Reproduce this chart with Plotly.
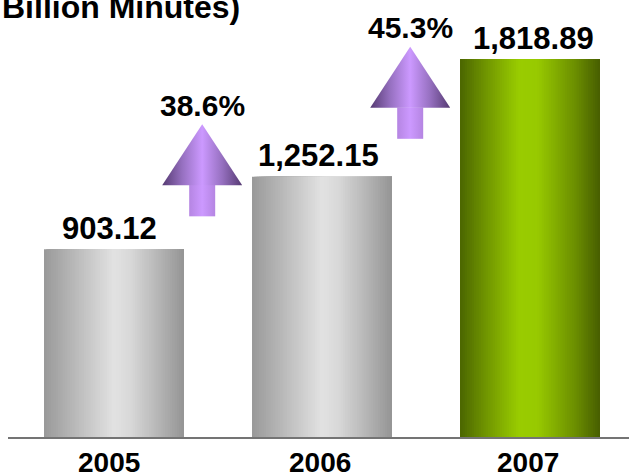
import numpy as np
import plotly.graph_objects as go

# ---- data -------------------------------------------------------------
years = ["2005", "2006", "2007"]
minutes = [903.12, 1252.15, 1818.89]
value_labels = ["903.12", "1,252.15", "1,818.89"]
growth = [38.6, 45.3]
growth_labels = ["38.6%", "45.3%"]
unit_label = "Billion Minutes)"

# ---- styling ------------------------------------------------------------
FONT = "Liberation Sans, Arial, sans-serif"
BAR_W = 0.673
N_SLICES = 60
Y_MAX = 2103
PX_Y = Y_MAX / 437.0          # data units per vertical pixel
PX_X = 1 / 208.0              # data units per horizontal pixel
LABEL_XSHIFT = [-5, -3, 4]    # small horizontal nudges of the value labels
YEAR_XSHIFT = [-5, -2, -2]
ARROW_GAP_PX = [33, 38]       # gap between a bar top and the arrow above it

GRAY = [(0.0, "#999999"), (0.5, "#e2e2e2"), (0.62, "#d8d8d8"), (1.0, "#959595")]
GREEN = [(0.0, "#4b6600"), (0.18, "#6f9400"), (0.42, "#99cc00"),
         (0.55, "#98ca00"), (0.82, "#6c8f00"), (1.0, "#475e00")]
bar_stops = [GRAY, GRAY, GREEN]


def hex_rgb(h):
    h = h.lstrip("#")
    return np.array([int(h[i:i + 2], 16) for i in (0, 2, 4)], dtype=float)


def shade(stops, t):
    for (t0, c0), (t1, c1) in zip(stops[:-1], stops[1:]):
        if t0 <= t <= t1:
            f = (t - t0) / (t1 - t0) if t1 > t0 else 0
            c = hex_rgb(c0) * (1 - f) + hex_rgb(c1) * f
            return "rgb(%d,%d,%d)" % tuple(np.round(c))
    return stops[-1][1]


pos = np.arange(len(years))
fig = go.Figure()

# Cylinder-like bars: each slice runs from its start to the right edge,
# later slices cover earlier ones so the shading has no seams.
for k in range(N_SLICES):
    t = (k + 0.5) / N_SLICES
    start = -BAR_W / 2 + k * BAR_W / N_SLICES
    fig.add_bar(
        x=pos, y=minutes,
        offset=start, width=BAR_W / 2 - start,
        marker=dict(color=[shade(s, t) for s in bar_stops], line_width=0),
        hoverinfo="skip", showlegend=False,
    )

annotations = []
for i, (v, lab) in enumerate(zip(minutes, value_labels)):
    annotations.append(dict(
        x=pos[i], y=v, xref="x", yref="y", text="<b>%s</b>" % lab,
        showarrow=False, yanchor="middle", yshift=21, xshift=LABEL_XSHIFT[i],
        font=dict(family=FONT, size=31, color="#000000")))

# Year labels under the baseline
for i, yr in enumerate(years):
    annotations.append(dict(
        x=pos[i], y=0, xref="x", yref="y", text="<b>%s</b>" % yr,
        showarrow=False, yanchor="middle", yshift=-25, xshift=YEAR_XSHIFT[i],
        font=dict(family=FONT, size=28, color="#000000")))

# Growth arrows between consecutive years
HEAD_HW = 40 * PX_X
SHAFT_HW = 13 * PX_X
for i, (g, glab) in enumerate(zip(growth, growth_labels)):
    cx = pos[i] + 0.424
    bottom = minutes[i] + ARROW_GAP_PX[i] * PX_Y
    head_base = bottom + 31 * PX_Y
    tip = bottom + 92 * PX_Y
    fig.add_scatter(
        x=[cx - SHAFT_HW, cx + SHAFT_HW, cx + SHAFT_HW, cx - SHAFT_HW, cx - SHAFT_HW],
        y=[bottom, bottom, head_base + 2, head_base + 2, bottom],
        mode="lines", fill="toself", line=dict(width=0),
        fillgradient=dict(type="horizontal",
                          colorscale=[[0, "#b585e2"], [0.5, "#cc99ff"], [1, "#b585e2"]]),
        hoverinfo="skip", showlegend=False)
    fig.add_scatter(
        x=[cx - HEAD_HW, cx, cx + HEAD_HW, cx - HEAD_HW],
        y=[head_base, tip, head_base, head_base],
        mode="lines", fill="toself", line=dict(width=0),
        fillgradient=dict(type="horizontal",
                          colorscale=[[0, "#553a72"], [0.25, "#9670c0"], [0.5, "#cc99ff"],
                                      [0.75, "#9670c0"], [1, "#553a72"]]),
        hoverinfo="skip", showlegend=False)
    annotations.append(dict(
        x=cx, y=tip, xref="x", yref="y", text="<b>%s</b>" % glab,
        showarrow=False, yanchor="middle", yshift=19,
        font=dict(family=FONT, size=30, color="#000000")))

annotations.append(dict(
    x=-8 / 621, y=1, xref="paper", yref="paper", text="<b>%s</b>" % unit_label,
    showarrow=False, xanchor="left", yanchor="top", yshift=13,
    font=dict(family=FONT, size=32, color="#000000")))

fig.update_layout(
    width=629, height=474,
    margin=dict(l=8, r=0, t=0, b=37),
    paper_bgcolor="white", plot_bgcolor="white",
    barmode="overlay", showlegend=False,
    annotations=annotations,
    xaxis=dict(
        range=[-0.5096, 2.476], showticklabels=False, ticks="", automargin=False,
        showgrid=False, zeroline=False,
        showline=True, linecolor="rgba(70,70,70,0.75)", linewidth=2, layer="above traces",
        fixedrange=True),
    yaxis=dict(range=[0, Y_MAX], visible=False, showgrid=False, zeroline=False,
               automargin=False, fixedrange=True),
)

fig.write_html("out.html")
